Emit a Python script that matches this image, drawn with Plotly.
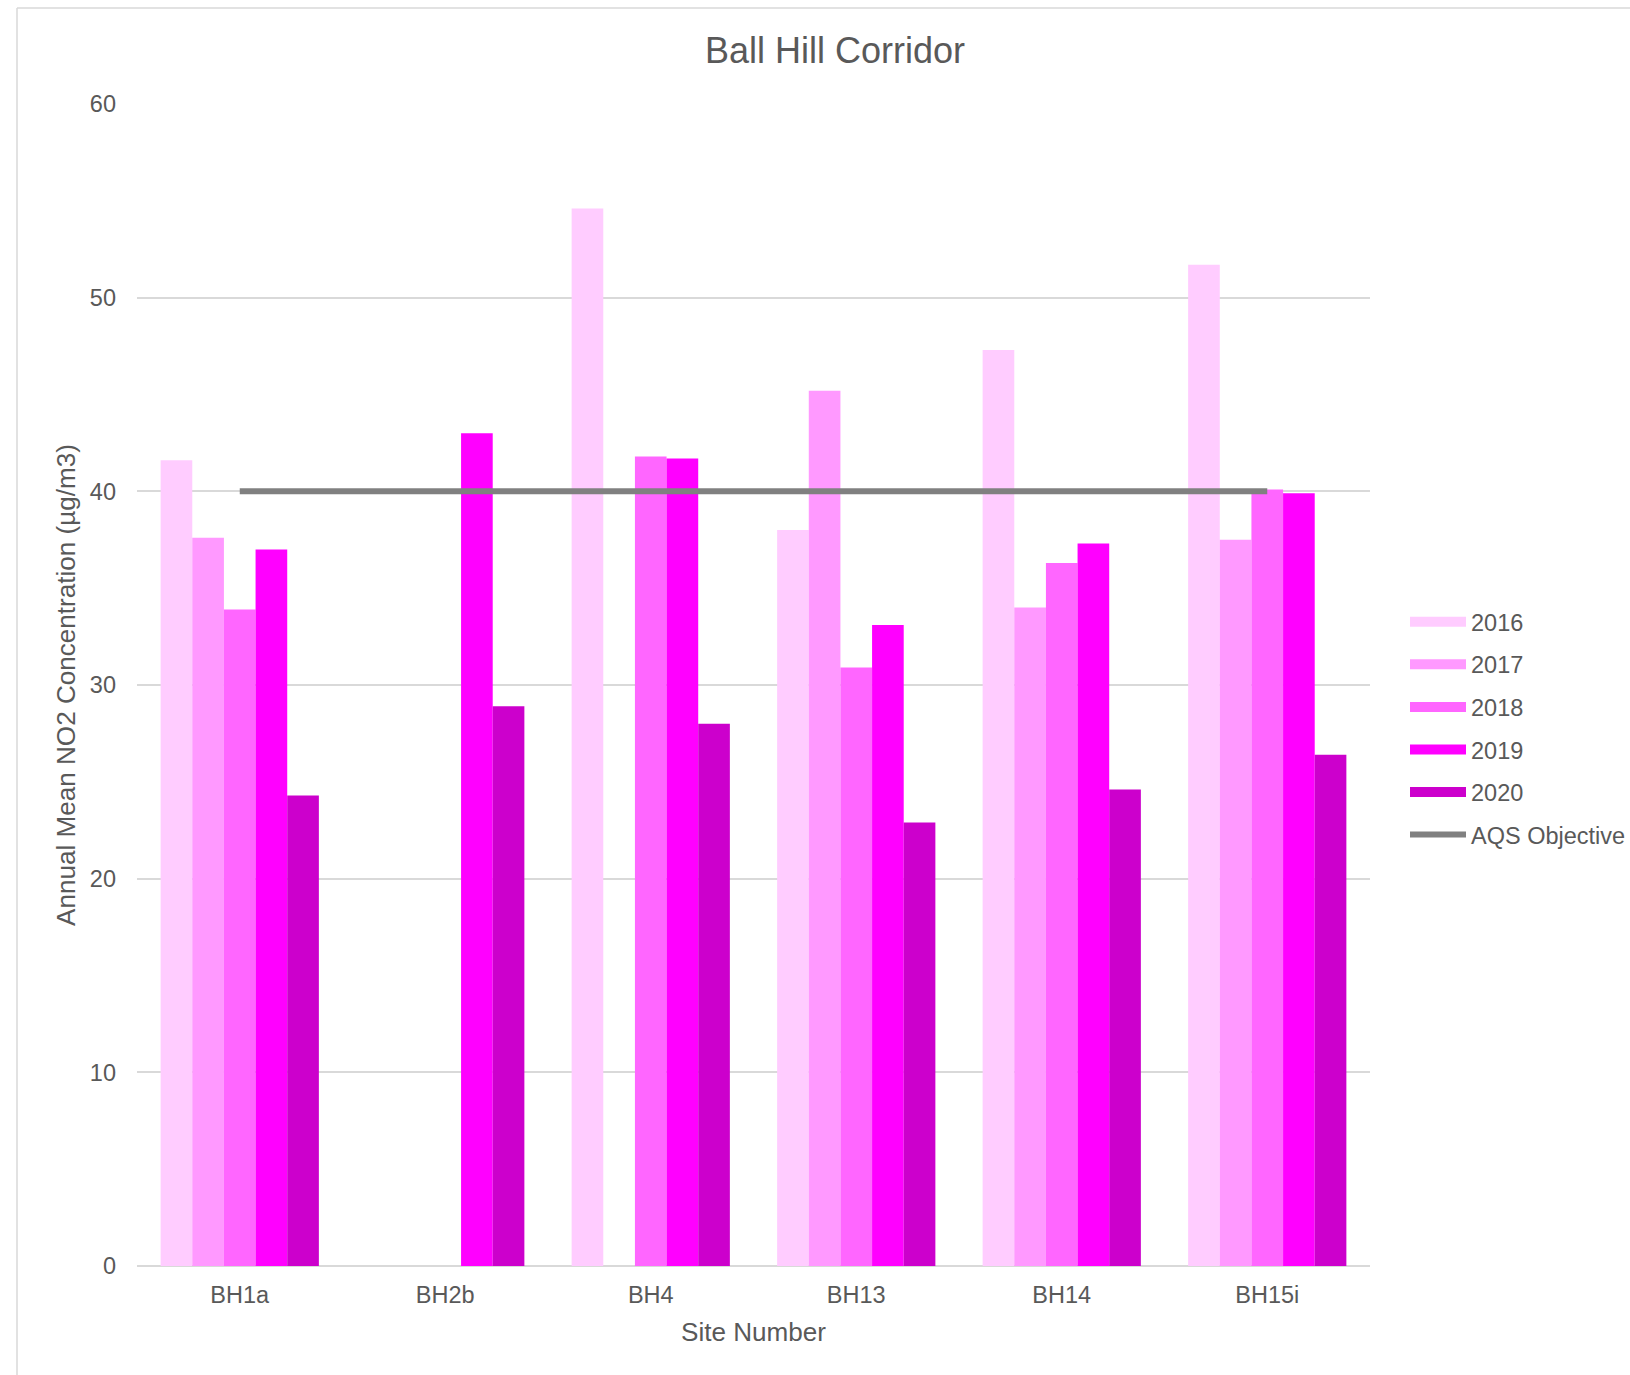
import plotly.graph_objects as go

sites = ["BH1a", "BH2b", "BH4", "BH13", "BH14", "BH15i"]
years = ["2016", "2017", "2018", "2019", "2020"]
v2016 = [41.6, None, 54.6, 38.0, 47.3, 51.7]
v2017 = [37.6, None, None, 45.2, 34.0, 37.5]
v2018 = [33.9, None, 41.8, 30.9, 36.3, 40.1]
v2019 = [37.0, 43.0, 41.7, 33.1, 37.3, 39.9]
v2020 = [24.3, 28.9, 28.0, 22.9, 24.6, 26.4]
aqs_objective = [40, 40, 40, 40, 40, 40]
series = [v2016, v2017, v2018, v2019, v2020]
colors = ["#FFCCFF", "#FF99FF", "#FF66FF", "#FF00FF", "#CC00CC"]

W, H = 1630, 1375
ML, MR, MT, MB = 137, 260, 104, 109
PW, PH = W - ML - MR, H - MT - MB
FONT = "Liberation Sans, Arial, sans-serif"
TXT = "#595959"
GRID = "#D9D9D9"

fig = go.Figure()
for yr, vals, col in zip(years, series, colors):
    fig.add_trace(go.Bar(x=sites, y=vals, name=yr, marker=dict(color=col, line=dict(width=0)),
                         showlegend=False, hoverinfo="x+y+name"))
for yr, col in zip(years, colors):
    fig.add_trace(go.Scatter(x=[None], y=[None], mode="lines", name=yr, legendgroup=yr,
                             line=dict(color=col, width=13), showlegend=True, hoverinfo="skip"))
fig.add_trace(go.Scatter(x=sites, y=aqs_objective, mode="lines", name="AQS Objective",
                         legendgroup="aqs", line=dict(color="#808080", width=6)))


def px2paper(x, y):
    return (x - ML) / PW, (H - MB - y) / PH


bx0, by0 = px2paper(17, 8)
bx1, by1 = px2paper(W + 5, H + 5)
shapes = [
    dict(type="line", xref="paper", yref="paper", x0=bx0, y0=by0, x1=bx1, y1=by0,
         line=dict(color=GRID, width=1.5)),
    dict(type="line", xref="paper", yref="paper", x0=bx0, y0=by0, x1=bx0, y1=by1,
         line=dict(color=GRID, width=1.5)),
]

fig.update_layout(
    width=W, height=H,
    margin=dict(l=ML, r=MR, t=MT, b=MB, pad=0),
    paper_bgcolor="white", plot_bgcolor="white",
    font=dict(family=FONT, color=TXT, size=23.5),
    title=dict(text="Ball Hill Corridor", font=dict(size=36, color=TXT, family=FONT),
               xref="container", x=835 / W, xanchor="center",
               yref="container", y=1 - 50 / H, yanchor="middle"),
    barmode="group", bargap=0.23, bargroupgap=0,
    showlegend=True,
    legend=dict(xref="container", yref="container", x=1405 / W, y=1 - 600 / H,
                xanchor="left", yanchor="top", font=dict(size=23.5, color=TXT, family=FONT),
                itemwidth=56, tracegroupgap=9, traceorder="grouped", bgcolor="rgba(0,0,0,0)"),
    shapes=shapes,
    xaxis=dict(showgrid=False, showline=False, zeroline=False, ticks="",
               tickfont=dict(size=23.5, color=TXT), ticklabelstandoff=12,
               title=dict(text="Site Number", font=dict(size=26.1, color=TXT), standoff=16)),
    yaxis=dict(range=[0, 60], dtick=10, showgrid=True, gridcolor=GRID, gridwidth=1.5,
               zeroline=True, zerolinecolor=GRID, zerolinewidth=2, showline=False, ticks="",
               tickfont=dict(size=23.5, color=TXT), ticklabelstandoff=20,
               title=dict(text="Annual Mean NO2 Concentration (µg/m3)",
                          font=dict(size=26.1, color=TXT), standoff=6)),
)

fig.write_html("out.html")
